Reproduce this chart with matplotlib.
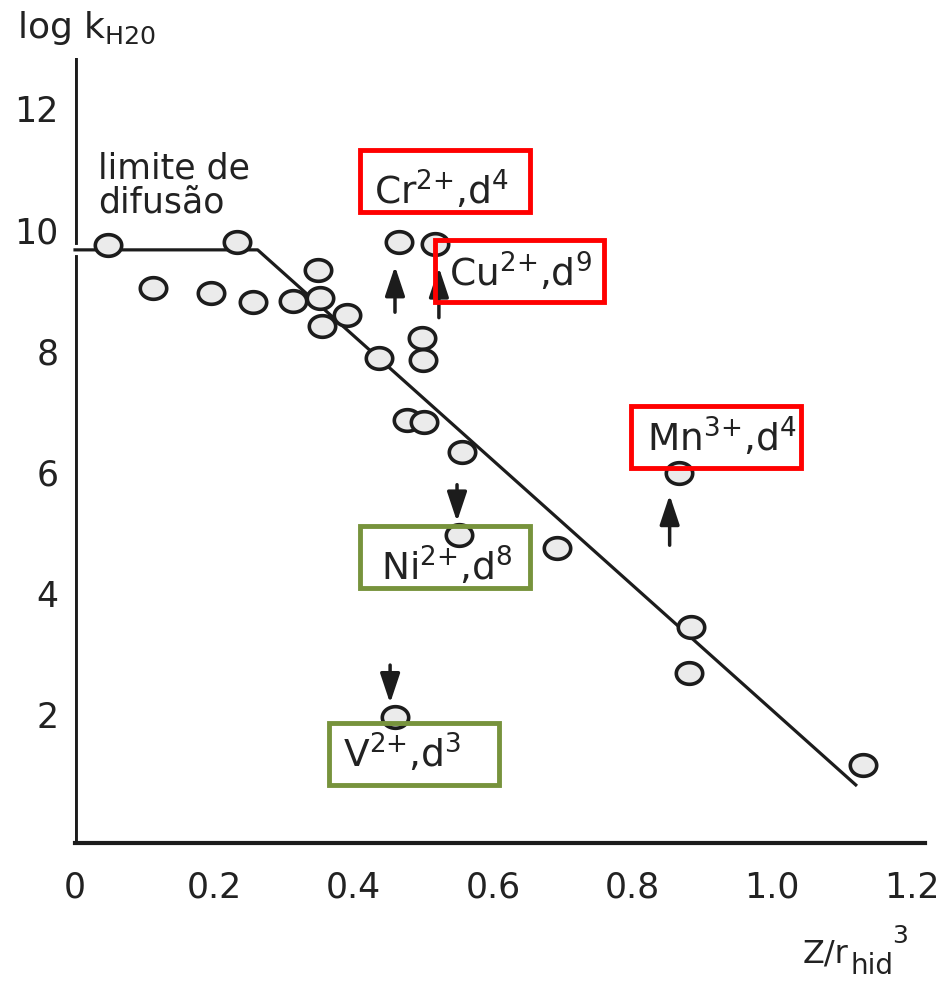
import numpy as np
import matplotlib
matplotlib.use("Agg")
import matplotlib.pyplot as plt
from matplotlib.path import Path
from matplotlib.patches import Rectangle
from matplotlib.text import Annotation

plt.rcParams['font.family'] = ['DejaVu Sans']
plt.rcParams['mathtext.default'] = 'regular'

# ---- data ----
x_vals = [0.047, 0.233, 0.112, 0.195, 0.255, 0.312, 0.349, 0.352, 0.355, 0.390,
          0.436, 0.465, 0.516, 0.498, 0.499, 0.476, 0.501, 0.555, 0.551, 0.691,
          0.866, 0.884, 0.881, 1.130, 0.459]
y_vals = [9.75, 9.80, 9.04, 8.96, 8.81, 8.83, 9.34, 8.88, 8.41, 8.60,
          7.88, 9.80, 9.77, 8.21, 7.85, 6.86, 6.83, 6.33, 4.96, 4.74,
          5.98, 3.44, 2.68, 1.16, 1.95]

# trend line (diffusion limit plateau + decline)
line_x = [0.0, 0.262, 1.12]
line_y = [9.67, 9.67, 0.83]

# annotated ions
labels = ['Cr$^{2{+}}$,d$^4$', 'Cu$^{2{+}}$,d$^9$', 'Mn$^{3{+}}$,d$^4$',
          'Ni$^{2{+}}$,d$^8$', 'V$^{2{+}}$,d$^3$']
label_color = ['#ff0000', '#ff0000', '#ff0000', '#77933c', '#77933c']
box_left = [0.409, 0.516, 0.798, 0.409, 0.365]
box_bottom = [10.30, 8.81, 6.07, 4.08, 0.83]
text_x = [0.429, 0.537, 0.820, 0.439, 0.384]
text_base = [10.41, 9.06, 6.33, 4.21, 1.11]
box_w = 0.243
box_h = 1.025

# arrows (tail -> head)
arrow_x = [0.459, 0.522, 0.548, 0.853, 0.452]
arrow_tail = [8.64, 8.55, 5.79, 4.79, 2.81]
arrow_head = [9.40, 9.38, 5.18, 5.62, 2.18]

x_ticks = [0, 0.2, 0.4, 0.6, 0.8, 1.0, 1.2]
x_tick_labels = ['0', '0.2', '0.4', '0.6', '0.8', '1.0', '1.2']
y_ticks = [2, 4, 6, 8, 10, 12]

ink = '#1c1c1c'
txt = '#222222'

fig = plt.figure(figsize=(9.46, 9.83), dpi=100)
ax = fig.add_axes([0.0793, 0.1424, 0.899, 0.7986])
ax.set_xlim(0, 1.22)
ax.set_ylim(-0.13, 12.84)

for s in ['top', 'right', 'left']:
    ax.spines[s].set_visible(False)
ax.spines['bottom'].set_linewidth(3.0)
ax.spines['bottom'].set_color(ink)

# left axis with a break where the plateau line meets it
ax.axvline(0, ymin=0, ymax=(9.55 + 0.13) / 12.97, color=ink, lw=3.5, zorder=2)
ax.axvline(0, ymin=(9.80 + 0.13) / 12.97, ymax=1, color=ink, lw=3.5, zorder=2)

ax.set_xticks(x_ticks)
ax.set_xticklabels(x_tick_labels)
ax.set_yticks(y_ticks)
ax.tick_params(axis='both', length=0, labelsize=25, colors=txt)
ax.tick_params(axis='x', pad=20)
ax.tick_params(axis='y', pad=12)

ax.plot(line_x, line_y, color=ink, lw=2.3, zorder=3, clip_on=False)

t = np.linspace(0, 2 * np.pi, 80)
ell = Path(np.column_stack([1.22 * np.cos(t), np.sin(t)]), closed=True)
ax.plot(x_vals, y_vals, linestyle='none', marker=ell, markersize=19,
        markerfacecolor='#ebebeb', markeredgecolor=ink, markeredgewidth=2.6,
        zorder=4, clip_on=False)

for xa, yt, yh in zip(arrow_x, arrow_tail, arrow_head):
    ax.annotate('', xy=(xa, yh), xytext=(xa, yt),
                arrowprops=dict(arrowstyle='-|>,head_length=0.9,head_width=0.3',
                                lw=2.5, color=ink, mutation_scale=20,
                                shrinkA=0, shrinkB=0), zorder=5)

for lab, c, bl, bb, tx, tb in zip(labels, label_color, box_left, box_bottom, text_x, text_base):
    ax.add_patch(Rectangle((bl, bb), box_w, box_h, facecolor='none', edgecolor=c,
                           lw=3.5, zorder=6))
    ax.text(tx, tb, lab, fontsize=27, ha='left', va='baseline', color=txt, zorder=6)

ax.text(0.033, 10.28, 'limite de\ndifusão', fontsize=25, ha='left', va='baseline',
        color=txt, linespacing=1.0)

fig.text(17 / 946, 1 - 38 / 983, 'log k$_{H20}$', fontsize=26, ha='left', va='baseline',
         color=txt)

# x-axis label built from pieces: Z/r, subscript "hid", superscript "3"
t1 = fig.text(803 / 946, 1 - 963 / 983, 'Z/r', fontsize=23, ha='left', va='baseline',
              color=txt)
ann2 = fig.add_artist(Annotation('hid', xy=(1, 0), xycoords=t1, xytext=(1, -3),
                                 textcoords='offset points', fontsize=20, ha='left',
                                 va='baseline', color=txt))
fig.add_artist(Annotation('3', xy=(1, 1), xycoords=ann2, xytext=(-1, 3),
                          textcoords='offset points', fontsize=18, ha='left',
                          va='bottom', color=txt))

fig.savefig('out.png', dpi=100)
